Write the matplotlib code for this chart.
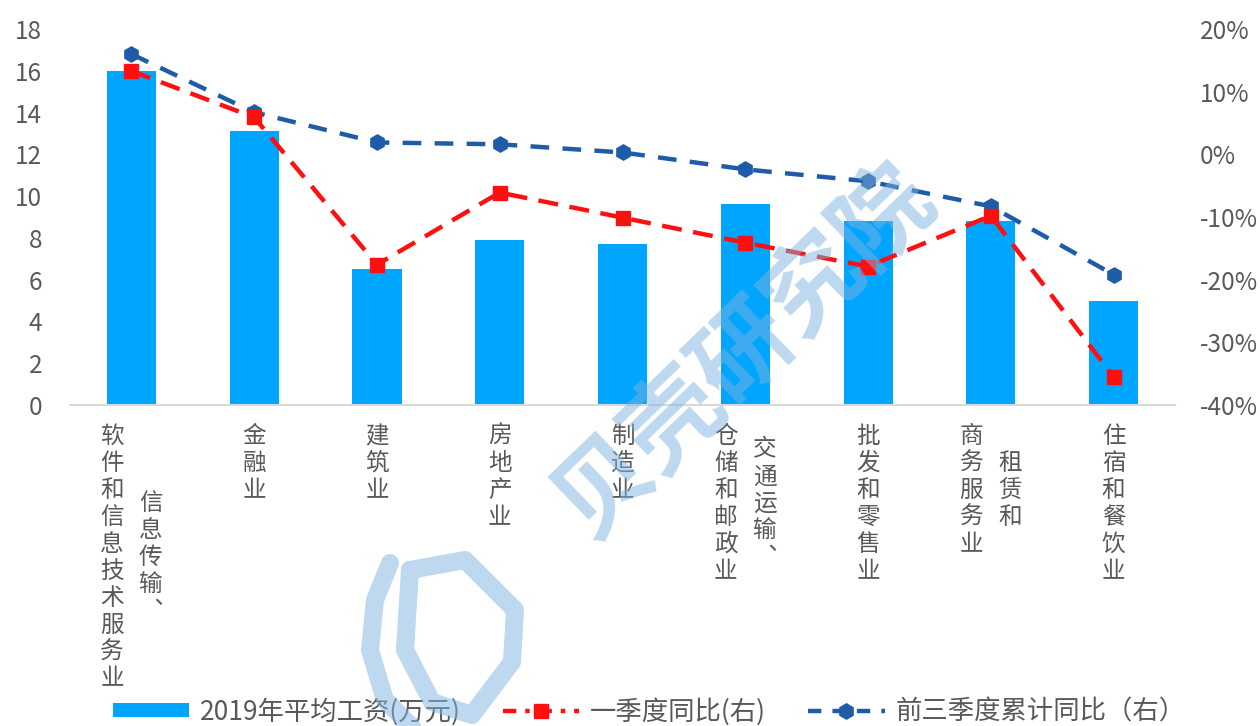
import numpy as np
import matplotlib
matplotlib.use("Agg")
import matplotlib.pyplot as plt
from matplotlib.lines import Line2D
from matplotlib.patches import Patch
from matplotlib.ticker import FuncFormatter

plt.rcParams['font.family'] = ['Noto Sans CJK SC', 'DejaVu Sans']

# industry labels, each entry is a list of columns (first column drawn on the right)
categories = [
    ["信息传输︑", "软件和信息技术服务业"],
    ["金融业"],
    ["建筑业"],
    ["房地产业"],
    ["制造业"],
    ["交通运输︑", "仓储和邮政业"],
    ["批发和零售业"],
    ["租赁和", "商务服务业"],
    ["住宿和餐饮业"],
]
wage_2019 = [16.0, 13.1, 6.5, 7.9, 7.7, 9.6, 8.8, 8.8, 5.0]          # 万元
q1_yoy = [13.3, 5.9, -17.6, -6.1, -10.1, -14.1, -17.9, -9.8, -35.5]   # %
q3_cum_yoy = [16.0, 6.7, 1.9, 1.6, 0.3, -2.4, -4.3, -8.3, -19.2]      # %

series_names = ["2019年平均工资(万元)", "一季度同比(右)", "前三季度累计同比（右）"]

BAR_C = '#00A5FF'
RED_C = '#FF1010'
BLUE_C = '#1F5BA8'
TXT_C = '#595959'

W, H = 1260, 726
fig = plt.figure(figsize=(W / 100, H / 100), dpi=100)
ax = fig.add_axes([70 / W, 1 - 405 / H, 1105 / W, 376 / H])
ax2 = ax.twinx()

x = np.arange(len(categories))
ax.bar(x, wage_2019, width=0.4, color=BAR_C, zorder=2)
ax.set_xlim(-0.5, len(categories) - 0.5)
ax.set_ylim(0, 18)
ax.set_yticks(range(0, 19, 2))

ax2.plot(x, np.array(q1_yoy) / 100, color=RED_C, lw=3.2, dashes=(4.5, 2.6),
         marker='s', ms=10, zorder=4)
ax2.plot(x, np.array(q3_cum_yoy) / 100, color=BLUE_C, lw=3.2, dashes=(4.2, 3.0),
         marker='h', ms=11, zorder=3)
ax2.set_ylim(-0.4, 0.2)
ax2.set_yticks(np.arange(-0.4, 0.21, 0.1))
ax2.yaxis.set_major_formatter(FuncFormatter(lambda v, p: f"{int(round(v * 100))}%"))

for a in (ax, ax2):
    for s in ('top', 'left', 'right'):
        a.spines[s].set_visible(False)
    a.spines['bottom'].set_color('#D9D9D9')
    a.spines['bottom'].set_linewidth(1.5)
    a.tick_params(length=0, labelsize=17.5, labelcolor=TXT_C)
ax2.spines['bottom'].set_visible(False)
ax.tick_params(axis='y', pad=20)
ax2.tick_params(axis='y', pad=18)
ax.set_xticks([])

# vertical (stacked) category labels under the axis
step = 19.4     # points between characters
col_gap = 28.0  # points between the two columns
for i, cols in enumerate(categories):
    n_max = max(len(c) for c in cols)
    k = len(cols)
    for j, col in enumerate(cols):
        xoff = ((k - 1) / 2 - j) * col_gap
        top = -13 - (n_max - len(col)) * step / 2
        for m, ch in enumerate(col):
            ax.annotate(ch, xy=(i, 0), xycoords=ax.get_xaxis_transform(),
                        xytext=(xoff, top - m * step - step / 2),
                        textcoords='offset points', ha='center', va='center',
                        fontsize=17, color=TXT_C, annotation_clip=False)

handles = [
    Patch(facecolor=BAR_C),
    Line2D([], [], color=RED_C, lw=3.2, dashes=(3, 2, 1, 2), marker='s', ms=10),
    Line2D([], [], color=BLUE_C, lw=3.2, dashes=(3, 2.5), marker='h', ms=11),
]
fig.legend(handles, series_names, loc='center', bbox_to_anchor=(0.515, 0.02),
           ncol=3, frameon=False, fontsize=19, handlelength=2.9, handleheight=0.45,
           handletextpad=0.4, columnspacing=1.6, labelcolor=TXT_C)

# watermark
wm_c = '#7DB3E0'
fig.text(745 / W, 1 - 352 / H, "贝壳研究院", fontsize=70, color=wm_c, alpha=0.5,
         fontweight='bold', rotation=44, ha='center', va='center', zorder=10)
ring = [(410, 570), (465, 560), (515, 610), (512, 662), (472, 715), (432, 702),
        (405, 650), (410, 570)]
arc = [(390, 563), (375, 600), (370, 650), (385, 700), (420, 735)]
for pts in (ring, arc):
    px = np.array(pts, dtype=float)
    fig.add_artist(Line2D(px[:, 0] / W, 1 - px[:, 1] / H, transform=fig.transFigure,
                          color=wm_c, alpha=0.5, lw=13, solid_capstyle='round',
                          solid_joinstyle='round', zorder=10))

fig.savefig("out.png", dpi=100)
